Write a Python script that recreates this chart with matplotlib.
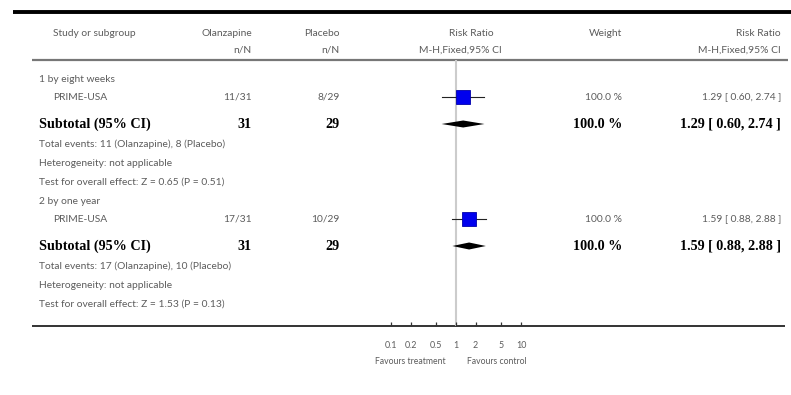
import numpy as np
import matplotlib
matplotlib.use("Agg")
import matplotlib.pyplot as plt

# trial data, one subgroup per entry
groups = ["1 by eight weeks", "2 by one year"]
studies = ["PRIME-USA", "PRIME-USA"]
olz_events = [11, 17]
olz_total = [31, 31]
pla_events = [8, 10]
pla_total = [29, 29]
rr = [1.29, 1.59]
rr_lo = [0.60, 0.88]
rr_hi = [2.74, 2.88]
weights = [100.0, 100.0]
z_vals = [0.65, 1.53]
p_vals = [0.51, 0.13]
tick_vals = [0.1, 0.2, 0.5, 1, 2, 5, 10]
tick_labels = ["0.1", "0.2", "0.5", "1", "2", "5", "10"]

W, H = 791, 395
fig = plt.figure(figsize=(W / 100, H / 100), dpi=100)

# text layer in pixel units
tx = fig.add_axes([0, 0, 1, 1])
tx.set_xlim(0, W)
tx.set_ylim(H, 0)
tx.axis("off")

light = dict(family="Lato", fontsize=7.4, color="#5c5c5c")
bold = dict(family="Liberation Serif", fontsize=10.2, weight="bold", color="black")

# rules
tx.plot([13, W], [12, 12], color="black", lw=2.8, solid_capstyle="butt")
tx.plot([32, 788], [60, 60], color="#777777", lw=1.6, solid_capstyle="butt")
tx.plot([32, 785], [326, 326], color="#333333", lw=1.4, solid_capstyle="butt")

# header
tx.text(53, 33, "Study or subgroup", ha="left", va="center", **light)
tx.text(252, 33, "Olanzapine", ha="right", va="center", **light)
tx.text(252, 50, "n/N", ha="right", va="center", **light)
tx.text(340, 33, "Placebo", ha="right", va="center", **light)
tx.text(340, 50, "n/N", ha="right", va="center", **light)
tx.text(471, 33, "Risk Ratio", ha="center", va="center", **light)
tx.text(460, 50, "M-H,Fixed,95% CI", ha="center", va="center", **light)
tx.text(622, 33, "Weight", ha="right", va="center", **light)
tx.text(781, 33, "Risk Ratio", ha="right", va="center", **light)
tx.text(781, 50, "M-H,Fixed,95% CI", ha="right", va="center", **light)

# row positions of each block (pixels)
block_top = [79, 201]
study_y = []
sub_y = []
for i, y0 in enumerate(block_top):
    ys, yt = y0 + 18, y0 + 45
    study_y.append(ys)
    sub_y.append(yt)
    tx.text(39, y0, groups[i], ha="left", va="center", **light)
    tx.text(53, ys, studies[i], ha="left", va="center", **light)
    tx.text(252, ys, f"{olz_events[i]}/{olz_total[i]}", ha="right", va="center", **light)
    tx.text(340, ys, f"{pla_events[i]}/{pla_total[i]}", ha="right", va="center", **light)
    tx.text(622, ys, f"{weights[i]:.1f} %", ha="right", va="center", **light)
    tx.text(781, ys, f"{rr[i]:.2f} [ {rr_lo[i]:.2f}, {rr_hi[i]:.2f} ]",
            ha="right", va="center", **light)

    tx.text(39, yt, "Subtotal (95% CI)", ha="left", va="center", **bold)
    tx.text(252, yt, f"{olz_total[i]}", ha="right", va="center", **bold)
    tx.text(340, yt, f"{pla_total[i]}", ha="right", va="center", **bold)
    tx.text(622, yt, f"{weights[i]:.1f} %", ha="right", va="center", **bold)
    tx.text(781, yt, f"{rr[i]:.2f} [ {rr_lo[i]:.2f}, {rr_hi[i]:.2f} ]",
            ha="right", va="center", **bold)

    tx.text(39, yt + 20, f"Total events: {olz_events[i]} (Olanzapine), {pla_events[i]} (Placebo)",
            ha="left", va="center", **light)
    tx.text(39, yt + 39, "Heterogeneity: not applicable", ha="left", va="center", **light)
    tx.text(39, yt + 58, f"Test for overall effect: Z = {z_vals[i]:.2f} (P = {p_vals[i]:.2f})",
            ha="left", va="center", **light)

# forest panel on a log scale, 0.1..10
x0, x1, y_top, y_bot = 391, 521, 60, 326
ax = fig.add_axes([x0 / W, (H - y_bot) / H, (x1 - x0) / W, (y_bot - y_top) / H])
ax.set_xscale("log")
ax.set_xlim(0.1, 10)
ax.set_ylim(y_bot, y_top)
ax.patch.set_alpha(0)
for s in ax.spines.values():
    s.set_visible(False)
ax.set_yticks([])
ax.set_xticks(tick_vals)
ax.set_xticklabels(tick_labels, family="Lato", fontsize=6.4, color="#5c5c5c")
ax.minorticks_off()
ax.tick_params(axis="x", direction="in", length=3, width=0.9, color="#333333", pad=11)

ax.axvline(1, color="#cccccc", lw=1.5, zorder=0)

for i in range(len(rr)):
    ax.plot([rr_lo[i], rr_hi[i]], [study_y[i], study_y[i]], color="#222222", lw=0.8, zorder=2)
    ax.plot(rr[i], study_y[i], marker="s", ms=9.5, color="#0000ee", mec="#0000aa",
            mew=0.6, zorder=3)
    ax.fill([rr_lo[i], rr[i], rr_hi[i], rr[i]],
            [sub_y[i], sub_y[i] - 3.5, sub_y[i], sub_y[i] + 3.5],
            color="black", lw=0, zorder=3)

tx.text(410, 362, "Favours treatment", ha="center", va="center",
        family="Lato", fontsize=6.2, color="#5c5c5c")
tx.text(497, 362, "Favours control", ha="center", va="center",
        family="Lato", fontsize=6.2, color="#5c5c5c")

fig.savefig("out.png", dpi=100)
